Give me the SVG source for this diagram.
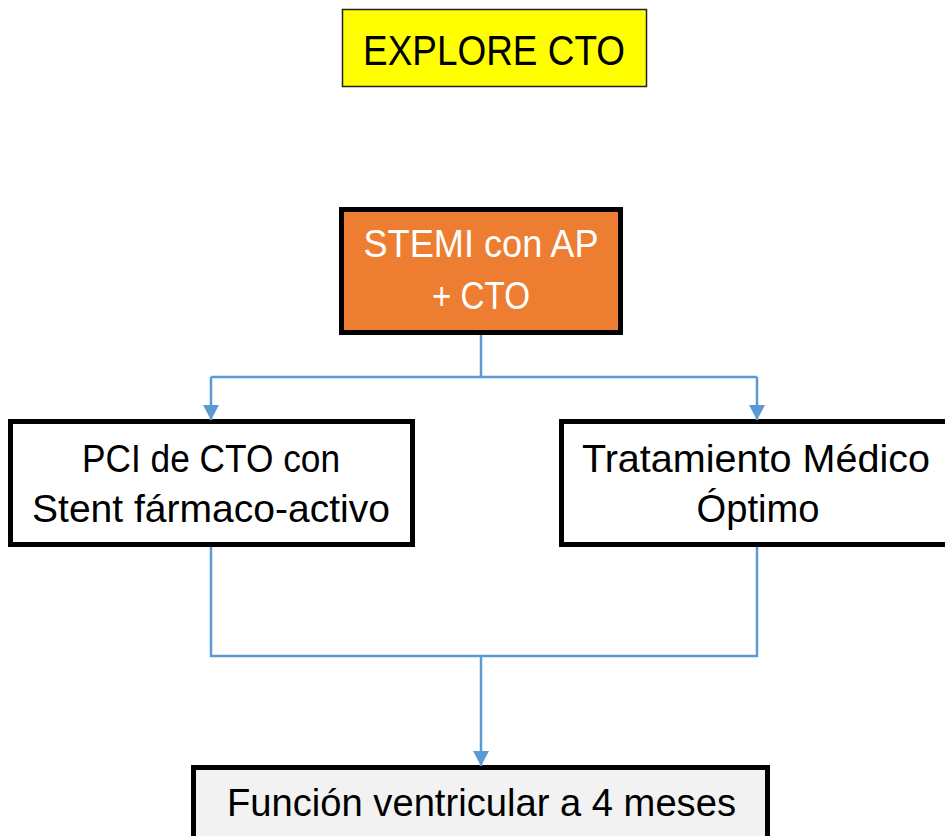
<svg xmlns="http://www.w3.org/2000/svg" width="945" height="836" viewBox="0 0 945 836">
  <style>
    .lbl { font-family: "Liberation Sans", Arial, sans-serif; font-size: 39px; text-anchor: middle; fill: #000; }
    .box { fill: #FFFFFF; stroke: #000; stroke-width: 5; }
    .conn { fill: none; stroke: #5B9BD5; stroke-width: 2.5; }
  </style>
  <defs>
    <marker id="arrow" viewBox="0 0 15 16" refX="15" refY="8" markerWidth="15" markerHeight="16" markerUnits="userSpaceOnUse" orient="auto">
      <path d="M0,0 L15,8 L0,16 z" fill="#5B9BD5"/>
    </marker>
  </defs>
  <rect width="945" height="836" fill="#FFFFFF"/>

  <g id="explore">
    <rect x="342.5" y="9.5" width="304" height="77" fill="#FFFF00" stroke="#222" stroke-width="1.5"/>
    <text class="lbl" x="494" y="65" font-size="43" style="font-size:43px" textLength="262" lengthAdjust="spacingAndGlyphs">EXPLORE CTO</text>
  </g>

  <g id="stemi">
    <rect x="341.5" y="209.5" width="279" height="123" fill="#ED7D31" stroke="#000" stroke-width="5"/>
    <text class="lbl" x="481" y="257" style="fill:#FFFFFF" textLength="235" lengthAdjust="spacingAndGlyphs">STEMI con AP</text>
    <text class="lbl" x="481" y="309" style="fill:#FFFFFF" textLength="98" lengthAdjust="spacingAndGlyphs">+ CTO</text>
  </g>

  <g id="pci">
    <rect class="box" x="10.5" y="421.5" width="402" height="123"/>
    <text class="lbl" x="211" y="472" textLength="258" lengthAdjust="spacingAndGlyphs">PCI de CTO con</text>
    <text class="lbl" x="211" y="522" textLength="358" lengthAdjust="spacingAndGlyphs">Stent fármaco-activo</text>
  </g>

  <g id="tratamiento">
    <rect class="box" x="561.5" y="421.5" width="400" height="123"/>
    <text class="lbl" x="756" y="472" textLength="348" lengthAdjust="spacingAndGlyphs">Tratamiento Médico</text>
    <text class="lbl" x="758" y="522" textLength="123" lengthAdjust="spacingAndGlyphs">Óptimo</text>
  </g>

  <g id="funcion">
    <rect x="193.5" y="767.5" width="574" height="100" fill="#F2F2F2" stroke="#000" stroke-width="5"/>
    <text class="lbl" x="481.5" y="816" textLength="509" lengthAdjust="spacingAndGlyphs">Función ventricular a 4 meses</text>
  </g>

  <g id="connectors">
    <path class="conn" d="M481,335 V377"/>
    <path class="conn" d="M211,377 H757"/>
    <path class="conn" d="M211,377 V420" marker-end="url(#arrow)"/>
    <path class="conn" d="M757,377 V420" marker-end="url(#arrow)"/>
    <path class="conn" d="M211,547 V656 H757 V547"/>
    <path class="conn" d="M481,656 V766" marker-end="url(#arrow)"/>
  </g>
</svg>
